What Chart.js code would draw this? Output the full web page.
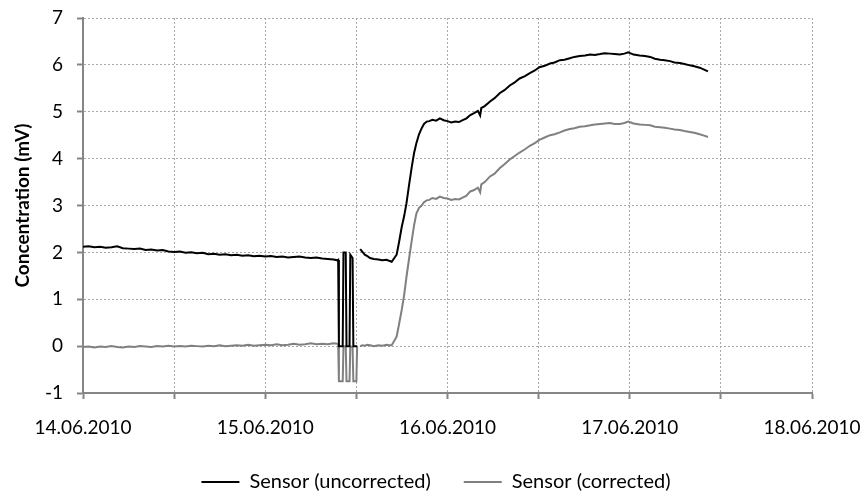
<!DOCTYPE html>
<html>
<head>
<meta charset="utf-8">
<script src="https://cdn.jsdelivr.net/npm/chart.js@4/dist/chart.umd.min.js"></script>
<style>
  html, body { margin: 0; padding: 0; background: #fff; }
  #wrap { width: 862px; height: 492px; position: relative; }
</style>
</head>
<body>
<div id="wrap"><canvas id="sensor-graph"></canvas></div>
<script>
// time axis in hours from 14.06.2010 00:00
var hours = [
    0, 0.75, 1.5, 2.25, 3, 3.75, 4.5, 5.25, 6, 6.75, 7.5, 8.25, 9, 9.75, 10.5, 11.25,
    12, 12.75, 13.5, 14.25, 15, 15.75, 16.5, 17.25, 18, 18.75, 19.5, 20.25, 21, 21.75, 22.5, 23.25,
    24, 24.75, 25.5, 26.25, 27, 27.75, 28.5, 29.25, 30, 30.75, 31.5, 32.25, 33, 33.5,
    33.6, 33.7, 34.2, 34.3, 34.6, 34.7, 35.1, 35.2, 35.5, 35.6, 36.0, 36.1, 36.2, 36.35,
    36.5, 36.8, 37.1, 37.45, 37.8, 38.3, 38.9, 39.4, 40.0, 40.3, 40.65,
    41.3, 41.6, 41.97, 42.3, 42.6, 42.95, 43.3, 43.6, 43.9, 44.25, 44.6, 44.9, 45.26, 45.6, 46.0,
    46.5, 47.0, 47.5, 48.0, 48.5, 49.0, 49.5, 50.0, 50.5, 51.0, 51.5, 52.0, 52.3, 52.45,
    52.9, 53.6, 54.2, 54.9, 55.5, 56.2, 56.8, 57.5, 58.2, 58.9, 59.5, 60.1, 60.8, 61.5, 62.1, 62.8,
    63.4, 64.1, 64.7, 65.4, 66.1, 66.8, 67.4, 68.1, 68.7, 69.4, 70.0, 70.7, 71.3, 71.8, 72.5, 73.3,
    74.0, 74.7, 75.3, 76.0, 76.6, 77.3, 77.9, 78.6, 79.2, 79.9, 80.5, 81.2, 81.8, 82.3
];

var uncorrected = [
    2.12, 2.13, 2.11, 2.12, 2.10, 2.11, 2.13, 2.09, 2.08, 2.07, 2.08, 2.05, 2.06, 2.04, 2.05, 2.02,
    2.01, 2.02, 1.99, 2.00, 1.98, 1.99, 1.96, 1.97, 1.95, 1.96, 1.94, 1.95, 1.93, 1.94, 1.92, 1.93,
    1.91, 1.92, 1.90, 1.91, 1.89, 1.90, 1.91, 1.89, 1.88, 1.89, 1.87, 1.86, 1.85, 1.83,
    1.84, 0.00, 0.00, 2.00, 2.00, 0.00, 0.00, 1.95, 1.88, 0.00, 0.00, 0.00, 0.00, null,
    2.07, 2.01, 1.95, 1.92, 1.88, 1.86, 1.85, 1.83, 1.84, 1.82, 1.80,
    1.95, 2.20, 2.54, 2.78, 3.05, 3.45, 3.83, 4.12, 4.33, 4.52, 4.65, 4.74, 4.79, 4.80, 4.83,
    4.81, 4.86, 4.82, 4.80, 4.77, 4.79, 4.78, 4.82, 4.86, 4.93, 4.97, 5.02, 4.92, 5.08,
    5.12, 5.22, 5.29, 5.40, 5.46, 5.56, 5.62, 5.71, 5.76, 5.83, 5.88, 5.95, 5.98, 6.03, 6.05, 6.10,
    6.11, 6.14, 6.17, 6.19, 6.20, 6.22, 6.21, 6.23, 6.25, 6.24, 6.23, 6.22, 6.24, 6.27, 6.22, 6.20,
    6.19, 6.17, 6.13, 6.11, 6.10, 6.08, 6.05, 6.04, 6.02, 5.99, 5.97, 5.94, 5.90, 5.86
];

var corrected = [
    -0.02, -0.01, -0.03, -0.01, -0.02, 0.00, -0.02, -0.03, -0.01, -0.02, 0.00, -0.01, -0.02, 0.00, -0.01, 0.01,
    -0.01, 0.00, -0.01, 0.01, 0.00, -0.01, 0.01, 0.00, 0.02, 0.00, 0.01, 0.02, 0.01, 0.03, 0.01, 0.02,
    0.03, 0.02, 0.04, 0.02, 0.03, 0.05, 0.03, 0.04, 0.06, 0.04, 0.05, 0.04, 0.06, 0.05,
    0.05, -0.75, -0.75, 0.00, 0.00, -0.75, -0.75, 0.00, -0.02, -0.75, -0.75, 0.00, 0.00, null,
    0.00, 0.02, 0.01, 0.03, 0.02, 0.00, 0.02, 0.01, 0.03, 0.02, 0.02,
    0.20, 0.45, 0.77, 1.10, 1.48, 1.88, 2.26, 2.58, 2.83, 2.95, 3.00, 3.07, 3.11, 3.12, 3.16,
    3.14, 3.19, 3.16, 3.15, 3.12, 3.14, 3.13, 3.17, 3.21, 3.30, 3.33, 3.38, 3.28, 3.45,
    3.50, 3.62, 3.68, 3.80, 3.88, 3.98, 4.05, 4.13, 4.20, 4.28, 4.33, 4.40, 4.45, 4.50, 4.52, 4.56,
    4.60, 4.63, 4.65, 4.68, 4.69, 4.71, 4.73, 4.74, 4.75, 4.76, 4.74, 4.74, 4.76, 4.79, 4.75, 4.73,
    4.72, 4.71, 4.68, 4.67, 4.66, 4.64, 4.62, 4.61, 4.59, 4.57, 4.55, 4.52, 4.49, 4.46
];

var dateLabels = ['14.06.2010', '15.06.2010', '16.06.2010', '17.06.2010', '18.06.2010'];

var colors = {
    uncorrected: '#000000',
    corrected: '#808080',
    axis: '#868686',
    grid: '#a8a8a8',
    text: '#000000'
};

var fontFamily = 'Lato, "Open Sans", sans-serif';

function toPoints(values) {
    return hours.map(function (h, i) {
        return { x: h, y: values[i] };
    });
}

function lineDataset(label, values, color) {
    return {
        label: label,
        data: toPoints(values),
        borderColor: color,
        backgroundColor: color,
        borderWidth: 2,
        pointRadius: 0,
        tension: 0,
        spanGaps: false
    };
}

var datasets = [
    lineDataset('Sensor (uncorrected)', uncorrected, colors.uncorrected),
    lineDataset('Sensor (corrected)', corrected, colors.corrected)
];

// legend row: fixed height near the bottom edge, centred on the whole canvas
var legendPlacement = {
    id: 'legendPlacement',
    afterInit: function (chart) {
        var lg = chart.legend;
        if (!lg) return;
        var fit = lg.fit.bind(lg);
        lg.fit = function () {
            fit();
            this.height = 53;
        };
    },
    afterLayout: function (chart) {
        var lg = chart.legend;
        if (!lg) return;
        lg.left = 5;
        lg.right = chart.width + 5;
    }
};

var axisGrid = {
    color: colors.grid,
    lineWidth: 1,
    tickLength: 6,
    tickColor: colors.axis,
    tickWidth: 2,
    tickBorderDash: []
};

var g = new Chart(document.getElementById('sensor-graph'), {
    type: 'line',
    data: { datasets: datasets },
    plugins: [legendPlacement],
    options: {
        responsive: true,
        maintainAspectRatio: false,
        animation: false,
        events: [],
        layout: { padding: { top: 18, right: 50, bottom: 0, left: 0 } },
        plugins: {
            tooltip: { enabled: false },
            legend: {
                position: 'bottom',
                labels: {
                    boxWidth: 38,
                    boxHeight: 2,
                    padding: 33,
                    color: colors.text,
                    font: { family: fontFamily, size: 20 },
                    generateLabels: function (chart) {
                        return chart.data.datasets.map(function (ds, i) {
                            return {
                                text: ds.label,
                                fillStyle: ds.borderColor,
                                strokeStyle: ds.borderColor,
                                lineWidth: 0,
                                datasetIndex: i
                            };
                        });
                    }
                }
            }
        },
        scales: {
            x: {
                type: 'linear',
                min: 0,
                max: 96,
                // fixed axis height; edge labels are allowed to overhang the padding
                afterFit: function (scale) {
                    scale.height = 46;
                    scale.paddingLeft = 0;
                    scale.paddingRight = 0;
                },
                ticks: {
                    stepSize: 12,
                    autoSkip: false,
                    maxRotation: 0,
                    padding: 17,
                    color: colors.text,
                    font: { family: fontFamily, size: 19 },
                    callback: function (v) {
                        return v % 24 === 0 ? dateLabels[v / 24] : '';
                    }
                },
                grid: axisGrid,
                border: { color: colors.axis, width: 2, dash: [2, 2] }
            },
            y: {
                min: -1,
                max: 7,
                afterFit: function (scale) {
                    scale.width = 83;
                    scale.paddingTop = 0;
                    scale.paddingBottom = 0;
                },
                ticks: {
                    stepSize: 1,
                    padding: 14,
                    color: colors.text,
                    font: { family: fontFamily, size: 19 }
                },
                title: {
                    display: true,
                    text: 'Concentration (mV)',
                    color: colors.text,
                    font: { family: fontFamily, size: 19, weight: 'bold' },
                    padding: { top: 11, bottom: 0 }
                },
                grid: axisGrid,
                border: { color: colors.axis, width: 2, dash: [2, 2] }
            }
        }
    }
});
</script>
</body>
</html>
